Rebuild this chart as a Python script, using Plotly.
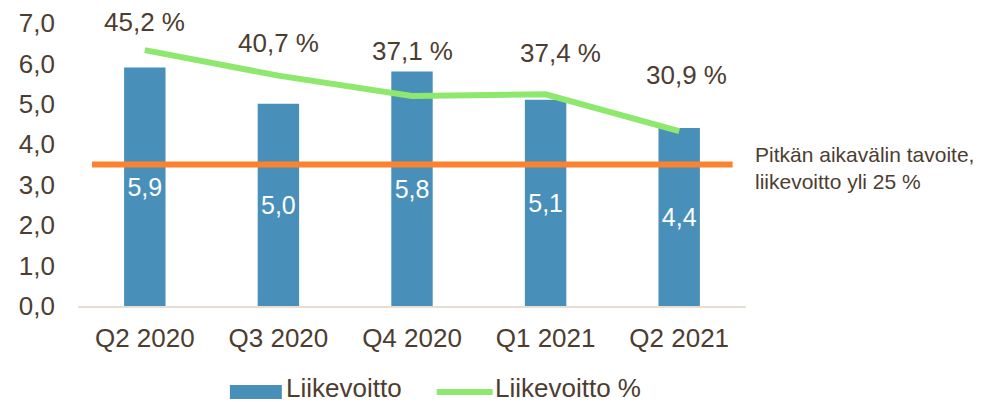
import plotly.graph_objects as go

# ---- data ----
categories = ["Q2 2020", "Q3 2020", "Q4 2020", "Q1 2021", "Q2 2021"]
liikevoitto = [5.9, 5.0, 5.8, 5.1, 4.4]          # bars (left axis)
liikevoitto_pct = [45.2, 40.7, 37.1, 37.4, 30.9]  # line (hidden right axis, %)
target_pct = 25                                    # long-term target, %
y_ticks = [0, 1, 2, 3, 4, 5, 6, 7]

# ---- style ----
FONT = "Liberation Sans, Arial, sans-serif"
TXT = "#4d3d31"
BAR = "#4890b9"
GREEN = "#8fe86e"
ORANGE = "#fb822e"
AXIS = "#e6ddd4"
OFF = 8                       # default page body margin
W, H = 986 - OFF, 403 - OFF
PW, PH = 668.5, 283
ML, MT = 78 - OFF, 23 - OFF
MR, MB = W - ML - PW, H - MT - PH

# label offsets (px) for the percentage labels, as placed in the original
pct_yshift = [28, 33, 45, 41, 56]
pct_xshift = [0, 0, 0, 15, 7]

def px_x(px):   # page px -> paper x
    return (px - 78) / PW

def px_y(py):   # page px -> paper y
    return (306 - py) / PH

fig = go.Figure()
fig.add_trace(go.Bar(
    x=categories, y=liikevoitto, name="Liikevoitto",
    marker=dict(color=BAR, line=dict(width=0)), width=0.31,
    text=[f"{v:.1f}".replace(".", ",") for v in liikevoitto],
    textposition="inside", insidetextanchor="middle", constraintext="none",
    textfont=dict(family=FONT, size=25, color="white"),
    showlegend=False,
))
fig.add_trace(go.Scatter(
    x=categories, y=liikevoitto_pct, name="Liikevoitto %", yaxis="y2",
    mode="lines", line=dict(color=GREEN, width=6), showlegend=False,
))

# percentage labels
for c, v, dy, dx in zip(categories, liikevoitto_pct, pct_yshift, pct_xshift):
    fig.add_annotation(x=c, y=v, yref="y2", xref="x",
                       text=f"{v:.1f} %".replace(".", ","), showarrow=False,
                       yshift=dy, xshift=dx, borderpad=0,
                       font=dict(family=FONT, size=26, color=TXT))

# target line
fig.add_shape(type="line", xref="x", yref="y2", x0=-0.395, x1=4.4,
              y0=target_pct, y1=target_pct, line=dict(color=ORANGE, width=6),
              layer="above")
fig.add_annotation(xref="paper", yref="y2", x=px_x(754), y=target_pct, yshift=-3,
                   xanchor="left", yanchor="middle", align="left",
                   text=f"Pitkän aikavälin tavoite,<br>liikevoitto yli {target_pct} %",
                   showarrow=False, font=dict(family=FONT, size=21, color=TXT))

# manual legend
fig.add_shape(type="rect", xref="paper", yref="paper",
              x0=px_x(230), x1=px_x(282), y0=px_y(399), y1=px_y(385),
              fillcolor=BAR, line=dict(width=0))
fig.add_annotation(xref="paper", yref="paper", x=px_x(285), y=px_y(388),
                   xanchor="left", yanchor="middle", text="Liikevoitto",
                   showarrow=False, borderpad=0,
                   font=dict(family=FONT, size=26, color=TXT))
fig.add_shape(type="line", xref="paper", yref="paper",
              x0=px_x(437), x1=px_x(493), y0=px_y(392), y1=px_y(392),
              line=dict(color=GREEN, width=6))
fig.add_annotation(xref="paper", yref="paper", x=px_x(494), y=px_y(388),
                   xanchor="left", yanchor="middle", text="Liikevoitto %",
                   showarrow=False, borderpad=0,
                   font=dict(family=FONT, size=26, color=TXT))

fig.update_layout(
    width=W, height=H, margin=dict(l=ML, r=MR, t=MT, b=MB, autoexpand=False),
    paper_bgcolor="white", plot_bgcolor="white",
    font=dict(family=FONT, size=26, color=TXT),
    showlegend=False,
    xaxis=dict(showgrid=False, showline=True, linecolor=AXIS, linewidth=2,
               ticks="", ticklabelstandoff=8, tickfont=dict(size=26, color=TXT)),
    yaxis=dict(range=[0, 7], tickvals=y_ticks,
               ticktext=[f"{v:.1f}".replace(".", ",") for v in y_ticks],
               showgrid=False, zeroline=False, showline=False, ticks="",
               ticklabelstandoff=22, tickfont=dict(size=26, color=TXT)),
    yaxis2=dict(range=[0, 50], overlaying="y", side="right", visible=False),
)

fig.write_html("out.html")
